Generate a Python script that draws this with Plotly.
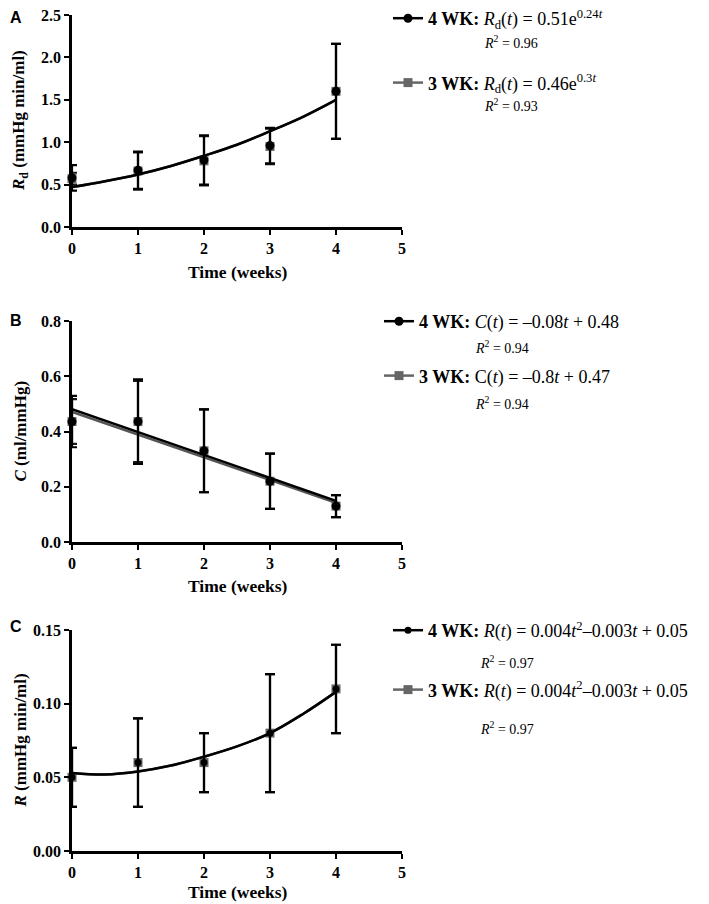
import plotly.graph_objects as go

W, H = 709, 904

# ---------------- data ----------------
weeks = [0, 1, 2, 3, 4]
fit_t = [0, 0.5, 1, 1.5, 2, 2.5, 3, 3.5, 4]
line_t = [0, 4]

# Panel A: Rd (mmHg min/ml)
rd_4wk_mean = [0.58, 0.67, 0.79, 0.96, 1.60]
rd_4wk_sd = [0.15, 0.22, 0.29, 0.21, 0.56]
rd_3wk_mean = [0.57, 0.66, 0.78, 0.95, 1.60]
rd_3wk_sd = [0.07, 0.22, 0.29, 0.21, 0.56]
rd_fit_4wk = [0.47, 0.54, 0.62, 0.72, 0.84, 0.97, 1.13, 1.30, 1.50]
rd_fit_3wk = [0.47, 0.54, 0.62, 0.72, 0.84, 0.97, 1.13, 1.30, 1.50]

# Panel B: C (ml/mmHg)
c_4wk_mean = [0.436, 0.436, 0.33, 0.22, 0.13]
c_4wk_sd = [0.093, 0.153, 0.15, 0.10, 0.04]
c_3wk_mean = [0.436, 0.436, 0.33, 0.22, 0.13]
c_3wk_sd = [0.081, 0.147, 0.15, 0.10, 0.04]
c_fit_4wk = [0.481, 0.149]
c_fit_3wk = [0.471, 0.142]

# Panel C: R (mmHg min/ml)
r_4wk_mean = [0.05, 0.06, 0.06, 0.08, 0.11]
r_4wk_sd = [0.02, 0.03, 0.02, 0.04, 0.03]
r_3wk_mean = [0.05, 0.06, 0.06, 0.08, 0.11]
r_3wk_sd = [0.02, 0.03, 0.02, 0.04, 0.03]
r_fit_4wk = [0.053, 0.052, 0.054, 0.058, 0.064, 0.071, 0.080, 0.093, 0.108]
r_fit_3wk = [0.053, 0.052, 0.054, 0.058, 0.064, 0.071, 0.080, 0.093, 0.108]

legend_a = ["<b>4 WK:</b> <i>R</i><sub>d</sub>(<i>t</i>) = 0.51e<sup>0.24<i>t</i></sup>",
            "<b>3 WK:</b> <i>R</i><sub>d</sub>(<i>t</i>) = 0.46e<sup>0.3<i>t</i></sup>"]
r2_a = ["<i>R</i><sup>2</sup> = 0.96", "<i>R</i><sup>2</sup> = 0.93"]
legend_b = ["<b>4 WK:</b> <i>C</i>(<i>t</i>) = –0.08<i>t</i> + 0.48",
            "<b>3 WK:</b> C(<i>t</i>) = –0.8<i>t</i> + 0.47"]
r2_b = ["<i>R</i><sup>2</sup> = 0.94", "<i>R</i><sup>2</sup> = 0.94"]
legend_c = ["<b>4 WK:</b> <i>R</i>(<i>t</i>) = 0.004<i>t</i><sup>2</sup>–0.003<i>t</i> + 0.05",
            "<b>3 WK:</b> <i>R</i>(<i>t</i>) = 0.004<i>t</i><sup>2</sup>–0.003<i>t</i> + 0.05"]
r2_c = ["<i>R</i><sup>2</sup> = 0.97", "<i>R</i><sup>2</sup> = 0.97"]

y_titles = ["<b><i>R</i><sub>d</sub> (mmHg min/ml)</b>",
            "<b><i>C</i> (ml/mmHg)</b>",
            "<b><i>R</i> (mmHg min/ml)</b>"]
panel_letters = ["A", "B", "C"]
y_ranges = [[0, 2.5], [0, 0.8], [0, 0.15]]
y_dticks = [0.5, 0.2, 0.05]
y_formats = [".1f", ".1f", ".2f"]
x_ticks = [0, 1, 2, 3, 4, 5]

# ---------------- layout geometry (pixels, in screenshot coords) ----------------
OFF = 8  # page body margin
x_left, x_right = 72, 402
panel_top = [15, 321, 630]
panel_bot = [227, 542, 851]
xtitle_y = [272, 586, 892]
letter_pos = [(16, 18), (16, 320), (16, 626)]
ytitle_x = 20
legend_pos = [(388, 0), (379, 303), (388, 612)]
legend_gaps = [38, 28, 33]
r2_pos = [[(511, 42), (511, 105)], [(502, 347), (502, 403)], [(507, 662), (507, 728)]]

BLACK = "#000000"
GREY = "#666666"
SERIF = "Liberation Serif"

def px(x):
    return (x - OFF) / W

def py(y):
    return 1 - (y - OFF) / H

def clamp(v):
    return max(0.0, min(1.0, v))

fig = go.Figure()

panels = [
    (rd_4wk_mean, rd_4wk_sd, rd_3wk_mean, rd_3wk_sd, fit_t, rd_fit_4wk, fit_t, rd_fit_3wk, legend_a, r2_a),
    (c_4wk_mean, c_4wk_sd, c_3wk_mean, c_3wk_sd, line_t, c_fit_4wk, line_t, c_fit_3wk, legend_b, r2_b),
    (r_4wk_mean, r_4wk_sd, r_3wk_mean, r_3wk_sd, fit_t, r_fit_4wk, fit_t, r_fit_3wk, legend_c, r2_c),
]

annotations = []
for i, (m4, s4, m3, s3, ft4, f4, ft3, f3, leg, r2) in enumerate(panels):
    n = i + 1
    xa = "x" if n == 1 else f"x{n}"
    ya = "y" if n == 1 else f"y{n}"
    lg = "legend" if n == 1 else f"legend{n}"
    # 3 WK points (grey squares)
    fig.add_trace(go.Scatter(x=weeks, y=m3, mode="markers", xaxis=xa, yaxis=ya,
                             marker=dict(symbol="square", size=9, color=GREY),
                             error_y=dict(type="data", array=s3, color="#1a1a1a", thickness=2.2, width=5),
                             showlegend=False, cliponaxis=False))
    # fit lines
    fig.add_trace(go.Scatter(x=ft3, y=f3, mode="lines", xaxis=xa, yaxis=ya,
                             line=dict(color="#555555", width=2.5, shape="spline"),
                             showlegend=False, cliponaxis=False))
    fig.add_trace(go.Scatter(x=ft4, y=f4, mode="lines", xaxis=xa, yaxis=ya,
                             line=dict(color=BLACK, width=2.5, shape="spline"),
                             showlegend=False, cliponaxis=False))
    # 4 WK points (black circles)
    fig.add_trace(go.Scatter(x=weeks, y=m4, mode="markers", xaxis=xa, yaxis=ya,
                             marker=dict(symbol="circle", size=9 if n < 3 else 7, color=BLACK),
                             error_y=dict(type="data", array=s4, color=BLACK, thickness=2.2, width=5),
                             showlegend=False, cliponaxis=False))
    # legend entries
    fig.add_trace(go.Scatter(x=[None], y=[None], mode="lines+markers", xaxis=xa, yaxis=ya,
                             name=leg[0], legend=lg, legendgroup=f"g{n}a",
                             line=dict(color=BLACK, width=2.5),
                             marker=dict(symbol="circle", size=9 if n < 3 else 7, color=BLACK)))
    fig.add_trace(go.Scatter(x=[None], y=[None], mode="lines+markers", xaxis=xa, yaxis=ya,
                             name=leg[1], legend=lg, legendgroup=f"g{n}b",
                             line=dict(color=GREY, width=2.5),
                             marker=dict(symbol="square", size=9, color=GREY)))

    dom = [clamp(py(panel_bot[i])), clamp(py(panel_top[i]))]
    axis_common = dict(showline=True, linecolor=BLACK, linewidth=2.5, ticks="outside",
                       ticklen=5, tickwidth=2.2, tickcolor=BLACK, showgrid=False, zeroline=False,
                       automargin=False, ticklabeloverflow="allow",
                       tickfont=dict(family=SERIF, size=16, color=BLACK, weight="bold"))
    fig.update_layout(**{
        ("xaxis" if n == 1 else f"xaxis{n}"): dict(
            domain=[px(x_left), px(x_right)], range=[0, 5], tickvals=x_ticks,
            anchor=ya, **axis_common),
        ("yaxis" if n == 1 else f"yaxis{n}"): dict(
            domain=dom, range=y_ranges[i], dtick=y_dticks[i], tick0=0,
            tickformat=y_formats[i], anchor=xa, **axis_common),
        lg: dict(x=px(legend_pos[i][0]), y=py(legend_pos[i][1]), xanchor="left", yanchor="top",
                 bgcolor="rgba(0,0,0,0)", borderwidth=0, itemwidth=30,
                 tracegroupgap=legend_gaps[i], traceorder="grouped",
                 font=dict(family=SERIF, size=18, color=BLACK)),
    })

    # x-axis title
    annotations.append(dict(x=px((x_left + x_right) / 2), y=py(xtitle_y[i]),
                            xref="paper", yref="paper", showarrow=False,
                            xanchor="center", yanchor="middle",
                            text="<b>Time (weeks)</b>",
                            font=dict(family=SERIF, size=17.5, color=BLACK)))
    # y-axis title
    annotations.append(dict(x=px(ytitle_x), y=py((panel_top[i] + panel_bot[i]) / 2),
                            xref="paper", yref="paper", showarrow=False, textangle=-90,
                            xanchor="center", yanchor="middle",
                            text=y_titles[i],
                            font=dict(family=SERIF, size=17, color=BLACK)))
    # panel letter
    annotations.append(dict(x=px(letter_pos[i][0]), y=py(letter_pos[i][1]),
                            xref="paper", yref="paper",
                            showarrow=False, xanchor="center", yanchor="middle",
                            text="<b>" + panel_letters[i] + "</b>",
                            font=dict(family="Liberation Sans", size=16, color=BLACK)))
    # R^2 texts
    for (rx, ry), txt in zip(r2_pos[i], r2):
        annotations.append(dict(x=px(rx), y=py(ry), xref="paper", yref="paper",
                                showarrow=False, xanchor="center", yanchor="middle",
                                text=txt,
                                font=dict(family=SERIF, size=14, color=BLACK)))

fig.update_layout(width=W, height=H, margin=dict(l=0, r=0, t=0, b=0, autoexpand=False),
                  paper_bgcolor="white", plot_bgcolor="white",
                  annotations=annotations)

fig.write_html("out.html")
